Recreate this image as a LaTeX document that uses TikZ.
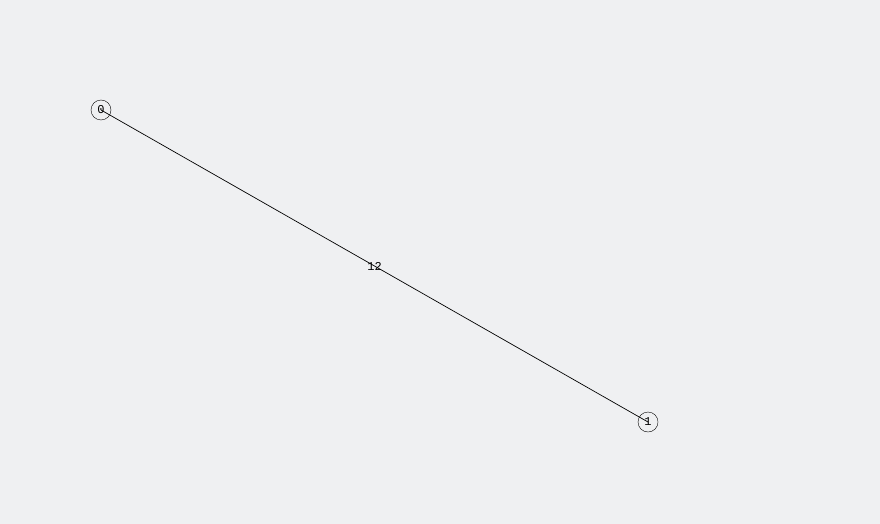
\documentclass[tikz,border=0pt]{standalone}
\usepackage{fontspec}
\newfontfamily\monofont{Liberation Mono}
\definecolor{bg}{HTML}{EFF0F2}
\begin{document}
\begin{tikzpicture}[x=1pt,y=-1pt,
  vertex/.style={draw=black,circle,minimum size=20pt,inner sep=0pt,font=\monofont\fontsize{12}{13}\selectfont},
  elabel/.style={font=\monofont\fontsize{12}{13}\selectfont,inner sep=0pt}]
\fill[bg] (0,0) rectangle (880,524);
\useasboundingbox (0,0) rectangle (880,524);
\node[vertex] (n0) at (101,110) {0};
\node[vertex] (n1) at (648,422) {1};
\draw[line width=0.7pt] (n0.center) -- node[elabel] (l) {12} (n1.center);
\end{tikzpicture}
\end{document}
